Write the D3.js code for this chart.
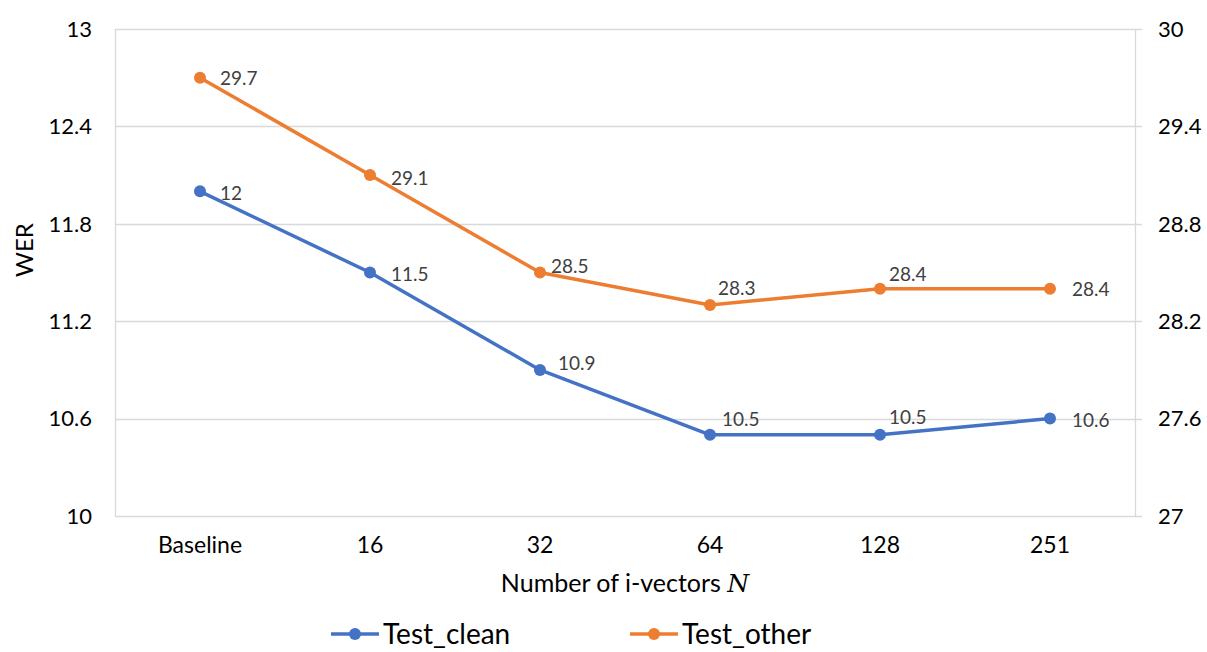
<!DOCTYPE html>
<html>
<head>
<meta charset="utf-8">
<script src="https://cdn.jsdelivr.net/npm/d3@7"></script>
<style>
  body { margin: 0; background: #fff; }
  svg { font-family: Lato, "Open Sans", sans-serif; }
</style>
</head>
<body>
<div id="viz"></div>
<script>
const categories = ['Baseline', '16', '32', '64', '128', '251'];
const testClean = [12, 11.5, 10.9, 10.5, 10.5, 10.6];
const testOther = [29.7, 29.1, 28.5, 28.3, 28.4, 28.4];
const leftTicks = [10, 10.6, 11.2, 11.8, 12.4, 13];
const rightTicks = [27, 27.6, 28.2, 28.8, 29.4, 30];

const width = 1207;
const height = 652;
const margin = {top: 29, right: 72, bottom: 136, left: 115};

// label nudges (dx, dy) per point, like Excel placed them
const cleanLabelPos = [[20, 2], [21, 2], [18, -7], [12, -15], [9, -17], [22, 2]];
const otherLabelPos = [[20, 1], [21, 3], [11, -6], [8, -17], [9, -14], [22, 1]];

const blue = '#4472C4';
const orange = '#ED7D31';
const grid = '#d9d9d9';

const svg = d3.select('#viz')
  .append('svg')
  .attr('width', width)
  .attr('height', height);

const x = d3.scaleBand()
  .domain(categories)
  .range([margin.left, width - margin.right]);

const yL = d3.scaleLinear()
  .domain([10, 13])
  .range([height - margin.bottom, margin.top]);

const yR = d3.scaleLinear()
  .domain([27, 30])
  .range([height - margin.bottom, margin.top]);

const xc = d => x(d) + x.bandwidth() / 2;
const right = width - margin.right;

// gridlines
svg.append('g')
  .selectAll('line')
  .data(leftTicks)
  .join('line')
    .attr('x1', margin.left)
    .attr('x2', right + 7)
    .attr('y1', d => Math.round(yL(d)) + 0.5)
    .attr('y2', d => Math.round(yL(d)) + 0.5)
    .attr('stroke', grid)
    .attr('stroke-width', 1.3);

// left axis line + right axis line
svg.append('line')
  .attr('x1', margin.left + 0.5).attr('x2', margin.left + 0.5)
  .attr('y1', margin.top).attr('y2', height - margin.bottom)
  .attr('stroke', grid).attr('stroke-width', 1.3);
svg.append('line')
  .attr('x1', right + 0.5).attr('x2', right + 0.5)
  .attr('y1', margin.top).attr('y2', height - margin.bottom)
  .attr('stroke', grid).attr('stroke-width', 1.3);

// left tick labels
svg.append('g')
  .selectAll('text')
  .data(leftTicks)
  .join('text')
    .attr('x', 92)
    .attr('y', d => yL(d))
    .attr('dy', '0.35em')
    .attr('text-anchor', 'end')
    .attr('font-size', 22)
    .attr('fill', '#000')
    .text(d => d);

// right tick labels
svg.append('g')
  .selectAll('text')
  .data(rightTicks)
  .join('text')
    .attr('x', 1158)
    .attr('y', d => yR(d))
    .attr('dy', '0.35em')
    .attr('text-anchor', 'start')
    .attr('font-size', 22)
    .attr('fill', '#000')
    .text(d => d);

// x tick labels
svg.append('g')
  .selectAll('text')
  .data(categories)
  .join('text')
    .attr('x', d => xc(d))
    .attr('y', 545)
    .attr('dy', '0.35em')
    .attr('text-anchor', 'middle')
    .attr('font-size', 23)
    .attr('fill', '#000')
    .text(d => d);

// axis titles
svg.append('text')
  .attr('transform', 'translate(25,250) rotate(-90)')
  .attr('dy', '0.35em')
  .attr('text-anchor', 'middle')
  .attr('font-size', 24)
  .text('WER');

const xt = svg.append('text')
  .attr('x', 625)
  .attr('y', 583)
  .attr('dy', '0.35em')
  .attr('text-anchor', 'middle')
  .attr('font-size', 25);
xt.append('tspan').text('Number of i-vectors ');
xt.append('tspan')
  .attr('font-family', '"DejaVu Serif", "Liberation Serif", serif')
  .attr('font-style', 'italic')
  .text('N');

// series
const series = [
  { name: 'Test_clean', values: testClean, y: yL, color: blue, lab: cleanLabelPos },
  { name: 'Test_other', values: testOther, y: yR, color: orange, lab: otherLabelPos }
];

series.forEach(s => {
  const line = d3.line()
    .x((d, i) => xc(categories[i]))
    .y(d => s.y(d));

  const g = svg.append('g');
  g.append('path')
    .datum(s.values)
    .attr('d', line)
    .attr('fill', 'none')
    .attr('stroke', s.color)
    .attr('stroke-width', 3.5)
    .attr('stroke-linejoin', 'round');

  g.selectAll('circle')
    .data(s.values)
    .join('circle')
      .attr('cx', (d, i) => xc(categories[i]))
      .attr('cy', d => s.y(d))
      .attr('r', 6)
      .attr('fill', s.color);

  g.selectAll('text')
    .data(s.values)
    .join('text')
      .attr('x', (d, i) => xc(categories[i]) + s.lab[i][0])
      .attr('y', (d, i) => s.y(d) + s.lab[i][1])
      .attr('dy', '0.35em')
      .attr('font-size', 19)
      .attr('fill', '#404040')
      .text(d => d);
});

// legend
const legX = [331, 630];
const leg = svg.append('g')
  .selectAll('g')
  .data(series)
  .join('g')
    .attr('transform', (d, i) => `translate(${legX[i]},634)`);

leg.append('line')
  .attr('x1', 0).attr('x2', 48)
  .attr('stroke', d => d.color)
  .attr('stroke-width', 3.5);
leg.append('circle')
  .attr('cx', 24)
  .attr('r', 6)
  .attr('fill', d => d.color);
leg.append('text')
  .attr('x', 52)
  .attr('dy', '0.35em')
  .attr('font-size', 28)
  .attr('fill', '#000')
  .text(d => d.name);
</script>
</body>
</html>
